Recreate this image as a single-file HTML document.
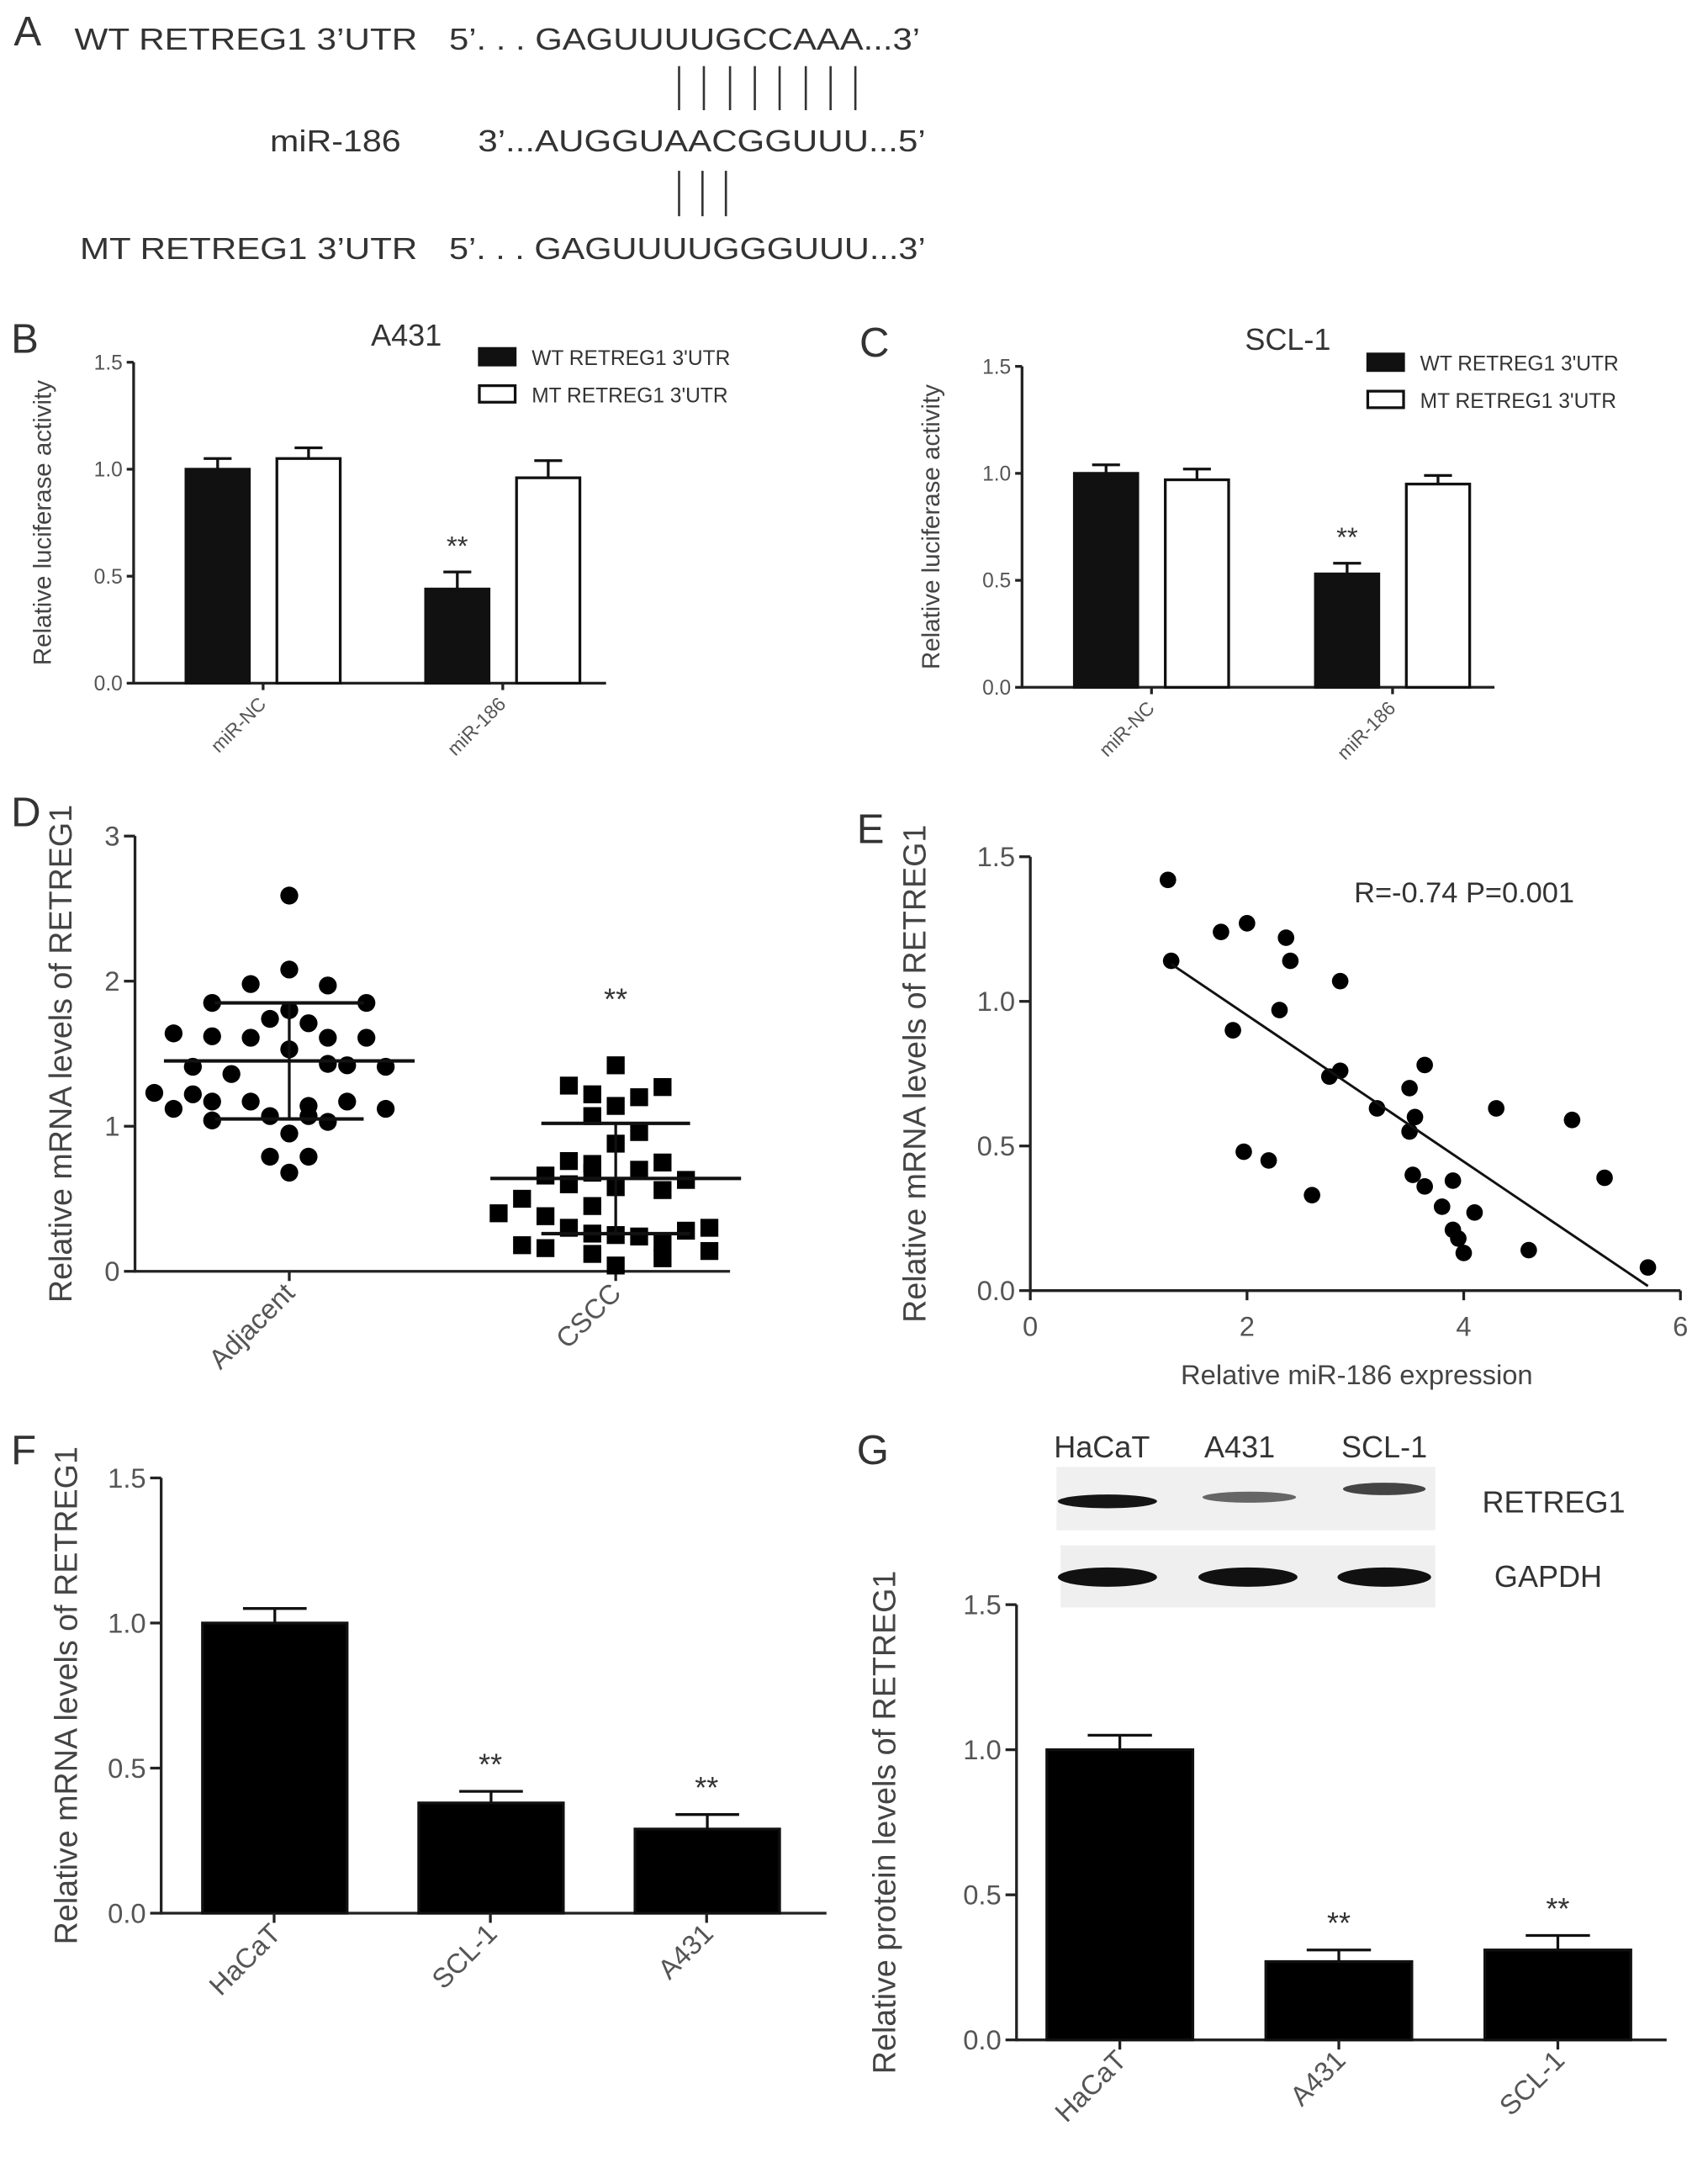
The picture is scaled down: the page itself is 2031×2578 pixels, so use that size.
<!DOCTYPE html>
<html><head><meta charset="utf-8"><style>
html,body{margin:0;padding:0;background:#fff;}
svg{display:block;font-family:"Liberation Sans",Arial,sans-serif;}
</style></head><body>
<svg id="fig" width="2031" height="2578" viewBox="0 0 1240 1574" xmlns="http://www.w3.org/2000/svg">
<g font-size="22" fill="#333">
<text x="10" y="33" font-size="30">A</text>
<text x="54" y="36" textLength="249" lengthAdjust="spacingAndGlyphs">WT RETREG1 3’UTR</text>
<text x="326" y="36" textLength="342" lengthAdjust="spacingAndGlyphs">5’. . . GAGUUUUGCCAAA...3’</text>
<text x="196" y="110" textLength="95" lengthAdjust="spacingAndGlyphs">miR-186</text>
<text x="347" y="110" textLength="325" lengthAdjust="spacingAndGlyphs">3’...AUGGUAACGGUUU...5’</text>
<text x="58" y="188" textLength="245" lengthAdjust="spacingAndGlyphs">MT RETREG1 3’UTR</text>
<text x="326" y="188" textLength="346" lengthAdjust="spacingAndGlyphs">5’. . . GAGUUUUGGGUUU...3’</text>
<g stroke="#333" stroke-width="1.6">
<line x1="493" y1="48" x2="493" y2="80"/><line x1="511" y1="48" x2="511" y2="80"/><line x1="530" y1="48" x2="530" y2="80"/><line x1="548" y1="48" x2="548" y2="80"/><line x1="566" y1="48" x2="566" y2="80"/><line x1="585" y1="48" x2="585" y2="80"/><line x1="603" y1="48" x2="603" y2="80"/><line x1="621" y1="48" x2="621" y2="80"/>
<line x1="493" y1="124" x2="493" y2="157"/><line x1="510" y1="124" x2="510" y2="157"/><line x1="527" y1="124" x2="527" y2="157"/>
</g>
</g>
<g id="root"></g>
</svg>
<script>
// ---- data ----
const bCats = ["miR-NC","miR-186"];
const bWT = [1.0, 0.44];
const bWTerr = [0.05, 0.08];
const bMT = [1.05, 0.96];
const bMTerr = [0.05, 0.08];
const cWT = [1.0, 0.53];
const cWTerr = [0.04, 0.05];
const cMT = [0.97, 0.95];
const cMTerr = [0.05, 0.04];
const lucTicks = [0, 0.5, 1.0, 1.5];
const dAdjVals = [2.59,2.08,1.98,1.97,1.85,1.85,1.80,1.74,1.71,1.64,1.62,1.61,1.61,1.61,1.53,1.43,1.41,1.36,1.42,1.41,1.23,1.22,1.17,1.17,1.14,1.17,1.12,1.07,1.07,1.12,1.04,1.03,0.95,0.79,0.79,0.68];
const dAdjOff  = [0,0,-2,2,-4,4,0,-1,1,-6,-4,-2,2,4,0,2,-5,-3,3,5,-7,-5,-4,-2,1,3,5,-1,1,-6,-4,2,0,-1,1,0];
const dCsccVals = [1.42,1.28,1.27,1.22,1.20,1.14,1.07,0.96,0.88,0.76,0.74,0.75,0.66,0.68,0.70,0.63,0.60,0.58,0.56,0.50,0.45,0.40,0.38,0.30,0.28,0.30,0.26,0.25,0.24,0.20,0.16,0.12,0.09,0.04,0.18,0.14];
const dCsccOff  = [0,-2,2,-1,1,0,-1,1,0,-2,-1,2,-3,-1,1,3,-2,0,2,-4,-1,-5,-3,4,3,-2,-1,0,1,2,-3,-1,2,0,-4,4];
const dMeans = [1.45, 0.64];
const dSD = [0.40, 0.38];
const dTicks = [0,1,2,3];
const eX = [1.27,1.30,1.76,2.0,2.36,2.4,2.86,2.3,1.87,2.76,2.86,3.5,3.2,3.64,3.5,3.53,3.55,1.97,2.2,2.6,3.64,3.9,3.8,4.1,3.9,3.95,4.0,4.3,5.0,5.3,4.6,5.7];
const eY = [1.42,1.14,1.24,1.27,1.22,1.14,1.07,0.97,0.90,0.74,0.76,0.70,0.63,0.78,0.55,0.40,0.60,0.48,0.45,0.33,0.36,0.38,0.29,0.27,0.21,0.18,0.13,0.63,0.59,0.39,0.14,0.08];
const eXTicks = [0,2,4,6];
const eYTicks = [0,0.5,1.0,1.5];
const fCats = ["HaCaT","SCL-1","A431"];
const fVals = [1.0,0.38,0.29];
const fErr = [0.05,0.04,0.05];
const gCats = ["HaCaT","A431","SCL-1"];
const gVals = [1.0,0.27,0.31];
const gErr = [0.05,0.04,0.05];

const NS="http://www.w3.org/2000/svg";
const root=document.getElementById('root');
function mk(tag,attrs,parent,name,inter){
  const el=document.createElementNS(NS,tag);
  for(const k in attrs) el.setAttribute(k,attrs[k]);
  
  
  (parent||root).appendChild(el);return el;
}
function txt(x,y,s,size,anchor,name,extra){
  const t=mk('text',Object.assign({x:x,y:y,'font-size':size,'text-anchor':anchor||'start',fill:'#333'},extra||{}),null,name,false);
  t.textContent=s;return t;
}
function yAxis(x,y0,y1,vmax,ticks,fmt,fs,title,tx,tlen){
  const sc=v=>y0-(v/vmax)*(y0-y1);
  mk('line',{x1:x,y1:y0+1,x2:x,y2:y1,stroke:'#222','stroke-width':2},null,'y-axis',false);
  ticks.forEach(v=>{mk('line',{x1:x-(tlen||6),y1:sc(v),x2:x,y2:sc(v),stroke:'#222','stroke-width':2},null,'y-tick',false);
    txt(x-(tlen||6)-3,sc(v)+fs*0.35,fmt(v),fs,'end','y-tick-label',{fill:'#555'});});
  const mid=(y0+y1)/2;
  txt(tx,mid,title,fs+3,'middle','y-axis-title',{transform:`rotate(-90 ${tx} ${mid})`,fill:'#444'});
  return sc;
}
function bar(x,w,sc,v,e,fill,name){
  mk('line',{x1:x+w/2,y1:sc(v),x2:x+w/2,y2:sc(v+e),stroke:'#111','stroke-width':2},null,name+'-error',false);
  mk('line',{x1:x+w/2-w*0.22,y1:sc(v+e),x2:x+w/2+w*0.22,y2:sc(v+e),stroke:'#111','stroke-width':2},null,name+'-error-cap',false);
  mk('rect',{x:x,y:sc(v),width:w,height:sc(0)-sc(v),fill:fill,stroke:'#111','stroke-width':2},null,name,false);
}
const f1=v=>v.toFixed(1);

// ---- B & C ----
function lucPanel(ax,y0,y1,xEnd,WT,WTe,MT,MTe,title,titleX,legX,legY,label,labelX,gx,ps){
  txt(labelX,y1-7,label,30,'start','panel-label');
  txt(titleX,y1-12,title,22,'middle','chart-title');
  const sc=yAxis(ax,y0,y1,1.5,lucTicks,f1,15,'Relative luciferase activity',ax-60,5);
  mk('line',{x1:ax,y1:y0,x2:xEnd,y2:y0,stroke:'#222','stroke-width':2},null,'x-axis',false);
  bCats.forEach((c,i)=>{
    const g=gx[i];
    bar(g,46,sc,WT[i],WTe[i],'#111','bar-wt-'+c);
    bar(g+66,46,sc,MT[i],MTe[i],'#fff','bar-mt-'+c);
    const cx=g+56;
    mk('line',{x1:cx,y1:y0,x2:cx,y2:y0+5,stroke:'#222','stroke-width':2},null,'x-tick',false);
    txt(cx+3,y0+16,c,14,'end','x-tick-label',{transform:`rotate(-45 ${cx+3} ${y0+16})`,fill:'#555'});
  });
  txt(gx[1]+23,sc(WT[1]+WTe[1])-12,'**',20,'middle','significance-marker');
  mk('rect',{x:legX,y:legY,width:26,height:12,fill:'#111',stroke:'#111','stroke-width':2},null,'legend-swatch-wt',false);
  txt(legX+38,legY+12,'WT RETREG1 3\'UTR',15,'start','legend-entry-wt');
  mk('rect',{x:legX,y:legY+27,width:26,height:12,fill:'#fff',stroke:'#111','stroke-width':2},null,'legend-swatch-mt',false);
  txt(legX+38,legY+39,'MT RETREG1 3\'UTR',15,'start','legend-entry-mt');
}
lucPanel(97,496,263,440,bWT,bWTerr,bMT,bMTerr,'A431',295,348,253,'B',8,[135,309]);
lucPanel(742,499,266,1085,cWT,cWTerr,cMT,cMTerr,'SCL-1',935,993,257,'C',624,[780,955]);

// ---- D ----
txt(8,600,'D',30,'start','panel-label');
const dsc=yAxis(98,923,607,3,dTicks,v=>String(v),20,'Relative mRNA levels of RETREG1',52,8);
mk('line',{x1:98,y1:923,x2:530,y2:923,stroke:'#222','stroke-width':2},null,'x-axis',false);
const dCx=[210,447];
['Adjacent','CSCC'].forEach((c,i)=>{
  const cx=dCx[i];
  mk('line',{x1:cx,y1:923,x2:cx,y2:930,stroke:'#222','stroke-width':2},null,'x-tick',false);
  txt(cx+5,940,c,20,'end','x-tick-label',{transform:`rotate(-45 ${cx+5} 940)`,fill:'#555'});
});
dAdjVals.forEach((v,i)=>{mk('circle',{cx:dCx[0]+dAdjOff[i]*14,cy:dsc(v),r:6.5,fill:'#000'},null,'point-adjacent',false);});
dCsccVals.forEach((v,i)=>{mk('rect',{x:dCx[1]+dCsccOff[i]*17-6.5,y:dsc(v)-6.5,width:13,height:13,fill:'#000'},null,'point-cscc',false);});
[0,1].forEach(i=>{
  const cx=dCx[i];
  mk('line',{x1:cx,y1:dsc(dMeans[i]-dSD[i]),x2:cx,y2:dsc(dMeans[i]+dSD[i]),stroke:'#111','stroke-width':2},null,'sd-line',false);
  mk('line',{x1:cx-91,y1:dsc(dMeans[i]),x2:cx+91,y2:dsc(dMeans[i]),stroke:'#111','stroke-width':2.5},null,'mean-line',false);
  [-1,1].forEach(s=>mk('line',{x1:cx-54,y1:dsc(dMeans[i]+s*dSD[i]),x2:cx+54,y2:dsc(dMeans[i]+s*dSD[i]),stroke:'#111','stroke-width':2.5},null,'sd-cap',false));
});
txt(dCx[1],733,'**',22,'middle','significance-marker');

// ---- E ----
txt(622,612,'E',30,'start','panel-label');
const esy=yAxis(748,937,622,1.5,eYTicks,f1,20,'Relative mRNA levels of RETREG1',672,8);
const esx=v=>748+v/6*(1220-748);
mk('line',{x1:748,y1:937,x2:1220,y2:937,stroke:'#222','stroke-width':2},null,'x-axis',false);
eXTicks.forEach(v=>{mk('line',{x1:esx(v),y1:937,x2:esx(v),y2:944,stroke:'#222','stroke-width':2},null,'x-tick',false);
  txt(esx(v),970,String(v),20,'middle','x-tick-label',{fill:'#555'});});
txt(985,1005,'Relative miR-186 expression',20,'middle','x-axis-title',{fill:'#444'});
eX.forEach((x,i)=>mk('circle',{cx:esx(x),cy:esy(eY[i]),r:6,fill:'#000'},null,'scatter-point',false));
(function(){const n=eX.length;let mx=0,my=0;eX.forEach((x,i)=>{mx+=x;my+=eY[i];});mx/=n;my/=n;
let sxy=0,sxx=0;eX.forEach((x,i)=>{sxy+=(x-mx)*(eY[i]-my);sxx+=(x-mx)**2;});const b=sxy/sxx,a=my-b*mx;
const xa=Math.min(...eX)+0.03,xb=Math.max(...eX);
mk('line',{x1:esx(xa),y1:esy(a+b*xa),x2:esx(xb),y2:esy(a+b*xb),stroke:'#111','stroke-width':1.8},null,'regression-line',false);})();
txt(1063,655,'R=-0.74  P=0.001',21,'middle','correlation-annotation');

// ---- F ----
txt(8,1063,'F',30,'start','panel-label');
const fsc=yAxis(117,1389,1073,1.5,[0,0.5,1.0,1.5],f1,20,'Relative mRNA levels of RETREG1',56,8);
mk('line',{x1:117,y1:1389,x2:600,y2:1389,stroke:'#222','stroke-width':2},null,'x-axis',false);
const fx=[147,304,461];
fCats.forEach((c,i)=>{
  bar(fx[i],105,fsc,fVals[i],fErr[i],'#000','bar-'+c);
  const cx=fx[i]+52;
  mk('line',{x1:cx,y1:1389,x2:cx,y2:1396,stroke:'#222','stroke-width':2},null,'x-tick',false);
  txt(cx+6,1405,c,20,'end','x-tick-label',{transform:`rotate(-45 ${cx+6} 1405)`,fill:'#555'});
  if(i>0) txt(cx,fsc(fVals[i]+fErr[i])-12,'**',22,'middle','significance-marker');
});

// ---- G ----
txt(622,1063,'G',30,'start','panel-label');
[['HaCaT',800],['A431',900],['SCL-1',1005]].forEach(([s,x])=>txt(x,1058,s,22,'middle','blot-lane-label'));
mk('rect',{x:767,y:1065,width:275,height:46,fill:'#f0f0f0'},null,'blot-retreg1',false);
mk('rect',{x:770,y:1122,width:272,height:45,fill:'#efefef'},null,'blot-gapdh',false);
[[804,1090,36,5,'#151515'],[907,1087,34,4,'#666'],[1005,1081,30,4.5,'#444'],[804,1145,36,7,'#111'],[906,1145,36,7,'#111'],[1005,1145,34,7,'#111']].forEach(b=>
  mk('ellipse',{cx:b[0],cy:b[1],rx:b[2],ry:b[3],fill:b[4]},null,'blot-band',false));
txt(1128,1098,'RETREG1',22,'middle','blot-label-retreg1');
txt(1124,1152,'GAPDH',22,'middle','blot-label-gapdh');
const gsc=yAxis(738,1481,1165,1.5,[0,0.5,1.0,1.5],f1,20,'Relative protein levels of RETREG1',650,8);
mk('line',{x1:738,y1:1481,x2:1210,y2:1481,stroke:'#222','stroke-width':2},null,'x-axis',false);
const gx=[760,919,1078];
gCats.forEach((c,i)=>{
  bar(gx[i],106,gsc,gVals[i],gErr[i],'#000','bar-'+c);
  const cx=gx[i]+53;
  mk('line',{x1:cx,y1:1481,x2:cx,y2:1488,stroke:'#222','stroke-width':2},null,'x-tick',false);
  txt(cx+6,1497,c,20,'end','x-tick-label',{transform:`rotate(-45 ${cx+6} 1497)`,fill:'#555'});
  if(i>0) txt(cx,gsc(gVals[i]+gErr[i])-12,'**',22,'middle','significance-marker');
});
</script>
</body></html>
